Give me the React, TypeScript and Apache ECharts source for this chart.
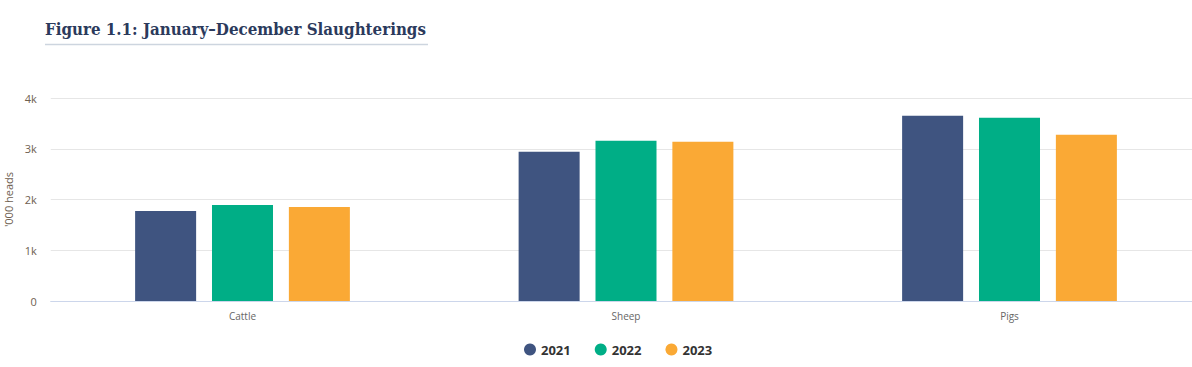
import React, { useEffect, useRef } from "react";
import * as echarts from "echarts";

const categories = ["Cattle", "Sheep", "Pigs"];
const seriesNames = ["2021", "2022", "2023"];
const values2021 = [1775, 2939, 3649];
const values2022 = [1893, 3156, 3610];
const values2023 = [1854, 3136, 3274];
const colors = ["#3f5480", "#00ae86", "#faa935"];

export default function App() {
  const ref = useRef<HTMLDivElement>(null);
  useEffect(() => {
    if (!ref.current) return;
    const chart = echarts.init(ref.current, null, { renderer: "svg" });
    const data = [values2021, values2022, values2023];
    chart.setOption({
      animation: false,
      color: colors,
      title: {
        text: "Figure 1.1: January\u2013December Slaughterings",
        left: 45,
        top: 20,
        padding: 0,
        textStyle: {
          fontFamily: "DejaVu Serif Condensed, DejaVu Serif",
          fontWeight: "bold",
          fontSize: 16.8,
          color: "#2b3a5c",
        },
      },
      graphic: [
        {
          type: "line",
          shape: { x1: 45, y1: 44.5, x2: 428, y2: 44.5 },
          style: { stroke: "#cdd5df", lineWidth: 1.5 },
        },
      ],
      legend: {
        data: seriesNames,
        bottom: 6,
        left: 519,
        icon: "circle",
        itemWidth: 12,
        itemHeight: 12,
        itemGap: 24,
        textStyle: {
          fontFamily: "Open Sans",
          fontWeight: "bold",
          fontSize: 13,
          color: "#333333",
        },
      },
      grid: { left: 50.75, width: 1150.5, top: 98, bottom: 66, outerBoundsMode: "none", containLabel: false },
      xAxis: {
        type: "category",
        data: categories,
        axisLine: { lineStyle: { color: "#ccd6eb" } },
        axisTick: { show: false },
        axisLabel: {
          fontFamily: "Open Sans",
          fontSize: 10,
          color: "#666666",
          margin: 10,
        },
      },
      yAxis: {
        type: "value",
        min: 0,
        max: 4000,
        interval: 1000,
        name: "'000 heads",
        nameLocation: "middle",
        nameGap: 37,
        nameTextStyle: { fontFamily: "Open Sans", fontSize: 11, color: "#6e6050" },
        axisLabel: {
          fontFamily: "Open Sans",
          fontSize: 11,
          color: "#6e6050",
          margin: 14,
          formatter: (v: number) => (v === 0 ? "0" : v / 1000 + "k"),
        },
        splitLine: { lineStyle: { color: "#e6e6e6" } },
        axisLine: { show: false },
        axisTick: { show: false },
      },
      series: seriesNames.map((name, i) => ({
        name,
        type: "bar",
        data: data[i],
        barGap: "26%",
        barCategoryGap: "44%",
        itemStyle: { color: colors[i] },
      })),
    });
    return () => chart.dispose();
  }, []);
  return (
    <div style={{ position: "fixed", left: 0, top: 0, width: 1192, height: 367, overflow: "hidden", background: "#fff" }}>
      <div ref={ref} style={{ width: 1215, height: 367 }} />
    </div>
  );
}
